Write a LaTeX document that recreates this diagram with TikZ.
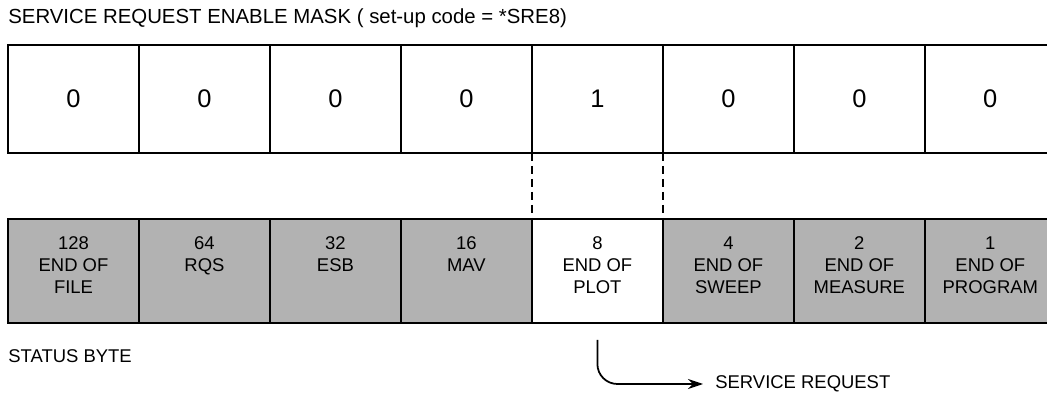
\documentclass[tikz,border=0pt]{standalone}
\usepackage{fontspec}
\setmainfont{Liberation Sans}
\usetikzlibrary{positioning,arrows.meta}

\begin{document}
\begin{tikzpicture}[x=0.02cm,y=-0.02cm,
    node distance=0cm,
    bit/.style={rectangle,draw,line width=1pt,outer sep=0pt,inner sep=0pt,minimum width=2.62cm,minimum height=2.16cm,font=\fontsize{14.5}{16}\selectfont},
    flag/.style={rectangle,draw,line width=1pt,outer sep=0pt,inner sep=0pt,minimum width=2.62cm,minimum height=2.08cm,fill=black!30},
    flagtext/.style={align=center,inner sep=0pt,font=\fontsize{10.5}{12.6}\selectfont},
    caption/.style={anchor=west,inner sep=0pt,font=\fontsize{10.5}{12.6}\selectfont},
    arrow/.style={-{Stealth[length=0.3cm,width=0.2cm]},line width=1pt,rounded corners=0.4cm}]
    \useasboundingbox (0,0) rectangle (1047,401);
    % enable mask
    \node[caption,font=\fontsize{11.6}{14}\selectfont] (title) at (8,18) {SERVICE REQUEST ENABLE MASK ( set-up code = *SRE8)};
    \node[bit] (m7) at (73.5,99) {0};
    \node[bit,right=of m7] (m6) {0};
    \node[bit,right=of m6] (m5) {0};
    \node[bit,right=of m5] (m4) {0};
    \node[bit,right=of m4] (m3) {1};
    \node[bit,right=of m3] (m2) {0};
    \node[bit,right=of m2] (m1) {0};
    \node[bit,right=of m1] (m0) {0};
    % status byte
    \node[flag] (s7) at (73.5,271) {};
    \node[flag,right=of s7] (s6) {};
    \node[flag,right=of s6] (s5) {};
    \node[flag,right=of s5] (s4) {};
    \node[flag,right=of s4,fill=white] (s3) {};
    \node[flag,right=of s3] (s2) {};
    \node[flag,right=of s2] (s1) {};
    \node[flag,right=of s1] (s0) {};
    \node[flagtext,anchor=north,below=0.34cm of s7.north] (t7) {128\\END OF\\FILE};
    \node[flagtext,anchor=north,below=0.34cm of s6.north] (t6) {64\\RQS};
    \node[flagtext,anchor=north,below=0.34cm of s5.north] (t5) {32\\ESB};
    \node[flagtext,anchor=north,below=0.34cm of s4.north] (t4) {16\\MAV};
    \node[flagtext,anchor=north,below=0.34cm of s3.north] (t3) {8\\END OF\\PLOT};
    \node[flagtext,anchor=north,below=0.34cm of s2.north] (t2) {4\\END OF\\SWEEP};
    \node[flagtext,anchor=north,below=0.34cm of s1.north] (t1) {2\\END OF\\MEASURE};
    \node[flagtext,anchor=north,below=0.34cm of s0.north] (t0) {1\\END OF\\PROGRAM};
    \node[caption] (status) at (8,356) {STATUS BYTE};
    \draw[line width=0.8pt,dash pattern=on 0.16cm off 0.1cm] (m3.south west) -- (s3.north west);
    \draw[line width=0.8pt,dash pattern=on 0.16cm off 0.1cm] (m3.south east) -- (s3.north east);
    % service request
    \coordinate[below=0.34cm of s3] (tap);
    \node[caption] (srq) at (715,384) {SERVICE REQUEST};
    \draw[arrow] (tap) |- ([xshift=-0.24cm]srq.west);
\end{tikzpicture}
\end{document}
